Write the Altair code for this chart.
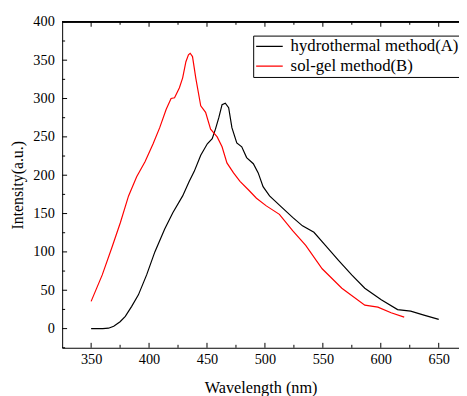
import altair as alt
import pandas as pd

# Series A: hydrothermal method
A_wl = [350, 360, 365, 369.5, 375, 379.5, 385, 390.8, 397.9, 405, 413.5, 420.5, 429, 434.7,
        439, 444.6, 450.3, 454.5, 457.3, 460.2, 463, 465.8, 468.7, 471.5, 475.7, 480, 484.2,
        490, 494.2, 498.4, 504, 512.5, 523.9, 532.4, 542.3, 552.2, 563.5, 574.9, 586.2,
        600.4, 614.5, 625.8, 637.2, 650]
A_int = [0, 0, 0.5, 3, 9, 16, 29, 44, 70, 100, 130, 151, 173, 192,
         205, 226, 241, 247.5, 260, 275, 292, 294, 288, 262, 242, 237, 223,
         215, 203, 185, 173, 161, 145, 134, 125.6, 108.5, 89, 70, 52.7,
         37.7, 24.8, 22.7, 17.6, 12]

# Series B: sol-gel method
B_wl = [350, 359.6, 368, 375.2, 382.3, 389.3, 396.5, 403.5, 409.2, 414.8, 419, 422, 426.2,
        429, 431.8, 434, 435.5, 437.5, 440.3, 444.6, 448.8, 453.1, 458.8, 463, 467.2, 472.9,
        478.5, 485.7, 492.7, 501.2, 512.5, 523.9, 535.2, 549.4, 566.4, 586.2, 597.5, 608.9,
        620.2]
B_int = [35.5, 70, 106, 138, 173, 198, 217.6, 241, 262, 286, 300, 301, 314,
         327, 348, 357, 359, 354.7, 327, 290.5, 282, 260, 250, 237, 216, 203,
         192, 181, 170, 160, 149, 127.6, 108.5, 78, 52.7, 30.5, 28, 20.6,
         15]

SERIES = ["hydrothermal method(A)", "sol-gel method(B)"]
COLORS = ["black", "red"]

X_MAJOR = [350, 400, 450, 500, 550, 600, 650]
X_MINOR = [375, 425, 475, 525, 575, 625]
Y_MAJOR = [0, 50, 100, 150, 200, 250, 300, 350, 400]
Y_MINOR = [-25, 25, 75, 125, 175, 225, 275, 325, 375]

rows = [{"wl": w, "v": v, "s": SERIES[0]} for w, v in zip(A_wl, A_int)]
rows += [{"wl": w, "v": v, "s": SERIES[1]} for w, v in zip(B_wl, B_int)]
df = pd.DataFrame(rows)

W, H = 403, 331
FONT = "Liberation Serif"
xscale = alt.Scale(domain=[325, 667.5], nice=False, zero=False)
yscale = alt.Scale(domain=[-25, 400], nice=False, zero=False)
XAX = alt.Axis(values=X_MAJOR, title="Wavelength (nm)", labelPadding=5,
               titlePadding=14, titleFontSize=16.5)
YAX = alt.Axis(values=Y_MAJOR, title="Intensity(a.u.)", labelPadding=8,
               titlePadding=8, titleFontSize=16)

lines = alt.Chart(df).mark_line(strokeWidth=1.2, clip=True).encode(
    x=alt.X("wl:Q", scale=xscale, axis=XAX),
    y=alt.Y("v:Q", scale=yscale, axis=YAX),
    color=alt.Color("s:N", scale=alt.Scale(domain=SERIES, range=COLORS),
                    legend=alt.Legend(title=None, orient="none", legendX=194, legendY=14,
                                      strokeColor="black", fillColor="white", padding=2,
                                      symbolType="stroke", symbolSize=729,
                                      symbolStrokeWidth=1.2, labelFont=FONT,
                                      labelFontSize=17, labelColor="black", labelOffset=7,
                                      labelLimit=400, clipHeight=18, rowPadding=2,
                                      cornerRadius=0)),
)

xmaj = pd.DataFrame({"t": X_MAJOR})
xmin = pd.DataFrame({"t": X_MINOR})
ymaj = pd.DataFrame({"t": Y_MAJOR})
ymin = pd.DataFrame({"t": Y_MINOR})

top_line = alt.Chart(xmaj).mark_rule(color="black", strokeWidth=1).encode(
    x=alt.value(0), x2=alt.value(W), y=alt.value(0))
top_maj = alt.Chart(xmaj).mark_rule(color="black").encode(
    x=alt.X("t:Q", scale=xscale, axis=XAX), y=alt.value(0), y2=alt.value(5))
top_min = alt.Chart(xmin).mark_rule(color="black").encode(
    x=alt.X("t:Q", scale=xscale, axis=XAX), y=alt.value(0), y2=alt.value(3))
bot_maj = alt.Chart(xmaj).mark_rule(color="black").encode(
    x=alt.X("t:Q", scale=xscale, axis=XAX), y=alt.value(H), y2=alt.value(H - 5))
bot_min = alt.Chart(xmin).mark_rule(color="black").encode(
    x=alt.X("t:Q", scale=xscale, axis=XAX), y=alt.value(H), y2=alt.value(H - 3))
left_maj = alt.Chart(ymaj).mark_rule(color="black").encode(
    y=alt.Y("t:Q", scale=yscale, axis=YAX), x=alt.value(0), x2=alt.value(5))
left_min = alt.Chart(ymin).mark_rule(color="black").encode(
    y=alt.Y("t:Q", scale=yscale, axis=YAX), x=alt.value(0), x2=alt.value(3))

chart = alt.layer(lines, top_line, top_maj, top_min, bot_maj, bot_min, left_maj, left_min).properties(
    width=W, height=H, autosize="none",
    padding={"left": 55, "top": 11, "right": 0, "bottom": 50},
).configure_view(stroke=None).configure_axis(
    domainColor="black", domainWidth=1, tickSize=0, grid=False,
    labelFont=FONT, labelFontSize=14.5, labelColor="black",
    titleFont=FONT, titleFontWeight="normal", titleColor="black",
)

chart.save("out.html", embed_options={"renderer": "svg", "actions": False})
